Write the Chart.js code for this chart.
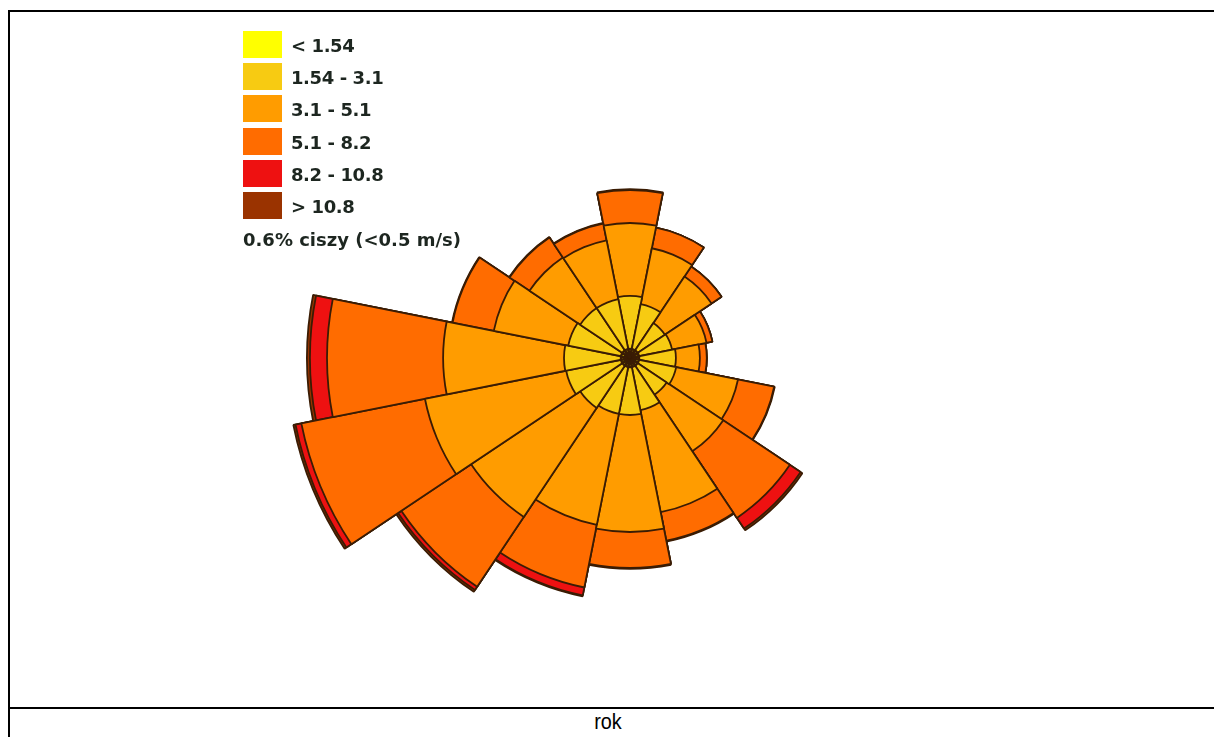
<!DOCTYPE html>
<html>
<head>
<meta charset="utf-8">
<script src="https://cdn.jsdelivr.net/npm/chart.js@4/dist/chart.umd.min.js"></script>
<style>
  body { margin: 0; width: 1214px; height: 737px; overflow: hidden; background: #fff; position: relative; }
  .frame { position: absolute; left: 8px; top: 10px; width: 1230px; height: 695px; border: 2px solid #000; box-sizing: content-box; }
  .cell { position: absolute; left: 8px; top: 708px; width: 1230px; height: 40px; border-left: 2px solid #000; }
  .caption { position: absolute; left: 508px; width: 200px; top: 708px; text-align: center; font: 22px "Liberation Sans", Arial, sans-serif; color: #000; line-height: 28px; transform: scaleX(0.9); }
  #roseWrap { position: absolute; left: 280px; top: 8px; width: 700px; height: 700px; }
  #legend { position: absolute; left: 243px; top: 31px; font: bold 18px "DejaVu Sans", Verdana, sans-serif; color: #1d2620; }
  .item { height: 32.2px; position: relative; }
  .swatch { position: absolute; left: 0; top: 0; width: 39px; height: 27px; }
  .label { position: absolute; left: 48px; top: 4px; white-space: nowrap; letter-spacing: -0.4px; }
  .calm { position: absolute; left: 0; top: 198px; white-space: nowrap; letter-spacing: 0; }
</style>
</head>
<body>
<div class="frame"></div>
<div class="cell"></div>
<div class="caption">rok</div>
<div id="roseWrap"><canvas id="rose" width="700" height="700"></canvas></div>
<div id="legend"></div>

<script>
// wind directions, clockwise from north
const directions = ['N', 'NNE', 'NE', 'ENE', 'E', 'ESE', 'SE', 'SSE', 'S', 'SSW', 'SW', 'WSW', 'W', 'WNW', 'NW', 'NNW'];

// speed classes (m/s) and their colours
const speedClasses = ['< 1.54', '1.54 - 3.1', '3.1 - 5.1', '5.1 - 8.2', '8.2 - 10.8', '> 10.8'];
const classColors = ['#FFFF00', '#F7CB12', '#FF9C00', '#FF6C00', '#EE1111', '#9A3300'];

// frequency (%) of each speed class per direction
const below154 = [0.30, 0.30, 0.30, 0.30, 0.30, 0.30, 0.30, 0.30, 0.30, 0.30, 0.30, 0.30, 0.30, 0.30, 0.30, 0.30];
const from154to31 = [1.77, 1.53, 1.10, 1.13, 1.23, 1.27, 1.17, 1.47, 1.60, 1.60, 1.70, 1.87, 1.90, 1.80, 1.70, 1.70];
const from31to51 = [2.43, 1.90, 1.87, 1.17, 0.80, 2.10, 2.27, 3.47, 3.90, 3.77, 4.37, 4.80, 4.03, 2.53, 2.03, 2.00];
const from51to82 = [1.10, 0.70, 0.40, 0.20, 0.23, 1.23, 2.67, 0.97, 1.20, 2.13, 2.80, 4.20, 3.87, 1.40, 0.80, 0.57];
const from82to108 = [0, 0, 0, 0, 0, 0, 0.43, 0, 0, 0.27, 0.13, 0.20, 0.57, 0, 0, 0];
const above108 = [0.03, 0, 0, 0, 0, 0.02, 0.07, 0.03, 0.03, 0.03, 0.07, 0.07, 0.10, 0.02, 0.02, 0.02];

const calmText = '0.6% ciszy (<0.5 m/s)';

const classValues = [below154, from154to31, from31to51, from51to82, from82to108, above108];

// stack the classes: each ring is drawn from the centre to its cumulative total,
// inner rings are painted over the outer ones
const cumulative = [];
classValues.forEach((vals, k) => {
  cumulative.push(vals.map((v, i) => (k > 0 ? cumulative[k - 1][i] : 0) + v));
});

const datasets = cumulative.map((vals, k) => ({
  label: speedClasses[k],
  data: vals,
  backgroundColor: classColors[k],
  borderColor: '#3a1c04',
  borderWidth: k === 0 ? 2.5 : 1.8
}));

// html legend
const legendEl = document.getElementById('legend');
speedClasses.forEach((name, k) => {
  const item = document.createElement('div');
  item.className = 'item';
  item.innerHTML = `<span class="swatch" style="background:${classColors[k]}"></span><span class="label">${name}</span>`;
  legendEl.appendChild(item);
});
const calm = document.createElement('div');
calm.className = 'calm';
calm.textContent = calmText;
legendEl.appendChild(calm);

new Chart(document.getElementById('rose').getContext('2d'), {
  type: 'polarArea',
  data: { labels: directions, datasets },
  options: {
    responsive: false,
    animation: false,
    layout: { padding: 0 },
    plugins: { legend: { display: false }, tooltip: { enabled: false } },
    scales: {
      r: {
        min: 0,
        max: 350 / 30,
        startAngle: -11.25,
        ticks: { display: false },
        grid: { display: false },
        angleLines: { display: false },
        pointLabels: { display: false }
      }
    }
  }
});
</script>
</body>
</html>
